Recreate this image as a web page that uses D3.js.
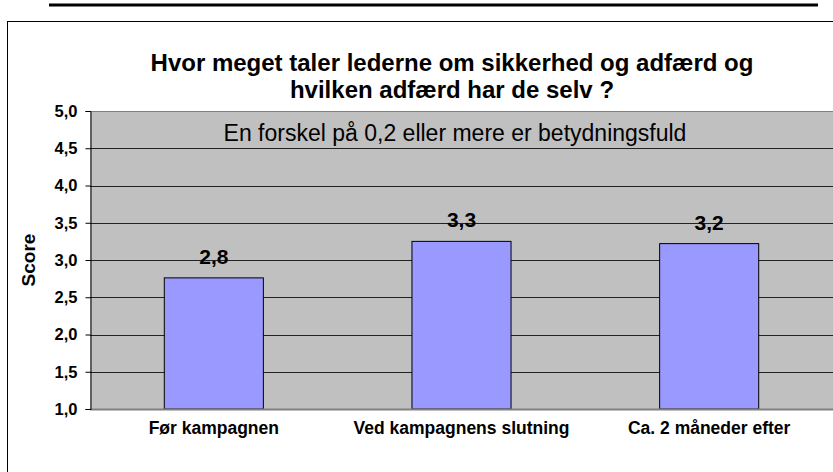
<!DOCTYPE html>
<html><head><meta charset="utf-8">
<script src="https://cdn.jsdelivr.net/npm/d3@7"></script>
<style>html,body{margin:0;padding:0;background:#fff;}svg{display:block;font-family:"Liberation Sans",Arial,sans-serif;}</style>
</head><body>
<script>
const categories = ["Før kampagnen", "Ved kampagnens slutning", "Ca. 2 måneder efter"];
const values = [2.76, 3.25, 3.22];
const valueLabels = ["2,8", "3,3", "3,2"];
const yTicks = [1.0, 1.5, 2.0, 2.5, 3.0, 3.5, 4.0, 4.5, 5.0];
const titleLines = ["Hvor meget taler lederne om sikkerhed og adfærd og", "hvilken adfærd har de selv ?"];
const subtitle = "En forskel på 0,2 eller mere er betydningsfuld";
const yLabel = "Score";

const W = 833, H = 472;
const FONT = '"Liberation Sans",Arial,sans-serif';
const svg = d3.select("body").append("svg").attr("width", W).attr("height", H);

// top rule
svg.append("line").attr("x1", 49).attr("x2", 818).attr("y1", 5).attr("y2", 5)
  .attr("stroke", "#000").attr("stroke-width", 3);
// chart border
svg.append("rect").attr("x", 7.5).attr("y", 21.5).attr("width", 840).attr("height", 470)
  .attr("fill", "none").attr("stroke", "#000").attr("stroke-width", 1);

const plot = {left: 90, right: 833, top: 111, bottom: 409};
const x = d3.scaleBand().domain(categories).range([plot.left, plot.right]).paddingInner(0.6).paddingOuter(0.3);
const y = d3.scaleLinear().domain([1, 5]).range([plot.bottom, plot.top]);

svg.append("rect").attr("x", plot.left).attr("y", plot.top)
  .attr("width", plot.right - plot.left).attr("height", plot.bottom - plot.top)
  .attr("fill", "#C0C0C0");
svg.append("line").attr("x1", plot.left).attr("x2", plot.right).attr("y1", plot.top + 0.5).attr("y2", plot.top + 0.5)
  .attr("stroke", "#808080").attr("stroke-width", 1);

// gridlines
svg.append("g").selectAll("line").data(yTicks.filter(t => t > 1 && t < 5)).join("line")
  .attr("x1", plot.left).attr("x2", plot.right)
  .attr("y1", d => Math.round(y(d)) + 0.5).attr("y2", d => Math.round(y(d)) + 0.5)
  .attr("stroke", "#222").attr("stroke-width", 1);

// subtitle text in plot
svg.append("text").attr("x", 455).attr("y", 141).attr("text-anchor", "middle")
  .attr("font-size", 23).attr("fill", "#000").text(subtitle);

// bars
svg.append("g").selectAll("rect").data(values).join("rect")
  .attr("x", (d, i) => x(categories[i]))
  .attr("y", d => y(d))
  .attr("width", x.bandwidth())
  .attr("height", d => y(1) - y(d))
  .attr("fill", "#9999FF").attr("stroke", "#000").attr("stroke-width", 1);

// bottom border of plot
svg.append("line").attr("x1", plot.left).attr("x2", plot.right).attr("y1", plot.bottom + 0.5).attr("y2", plot.bottom + 0.5)
  .attr("stroke", "#808080").attr("stroke-width", 2);

// value labels
svg.append("g").selectAll("text").data(values).join("text")
  .attr("x", (d, i) => x(categories[i]) + x.bandwidth() / 2)
  .attr("y", d => y(d) - 14)
  .attr("text-anchor", "middle").attr("font-size", 21).attr("font-weight", "bold")
  .text((d, i) => valueLabels[i]);

// y axis
const yAxis = d3.axisLeft(y).tickValues(yTicks).tickSize(5).tickPadding(8)
  .tickFormat(d => d3.format(".1f")(d).replace(".", ","));
const gy = svg.append("g").attr("transform", `translate(${plot.left + 0.5},0)`).call(yAxis);
gy.select(".domain").attr("stroke", "#000");
gy.selectAll(".tick line").attr("stroke", "#000");
gy.selectAll(".tick text").attr("font-size", 16.5).attr("font-weight", "bold").attr("fill", "#000")
  .attr("font-family", FONT);

// x axis labels
const xAxis = d3.axisBottom(x).tickSize(0);
const gx = svg.append("g").attr("transform", `translate(0,${plot.bottom})`).call(xAxis);
gx.select(".domain").remove();
gx.selectAll(".tick text").attr("font-size", 17.5).attr("font-weight", "bold").attr("fill", "#000")
  .attr("font-family", FONT).attr("dy", null).attr("y", 25);

// y label
svg.append("text").attr("transform", "translate(35,260) rotate(-90)")
  .attr("text-anchor", "middle").attr("font-size", 19).attr("font-weight", "bold").text(yLabel);

// title
svg.append("g").selectAll("text").data(titleLines).join("text")
  .attr("x", 452).attr("y", (d, i) => 71 + i * 27)
  .attr("text-anchor", "middle").attr("font-size", 24).attr("font-weight", "bold").text(d => d);
</script>
</body></html>
